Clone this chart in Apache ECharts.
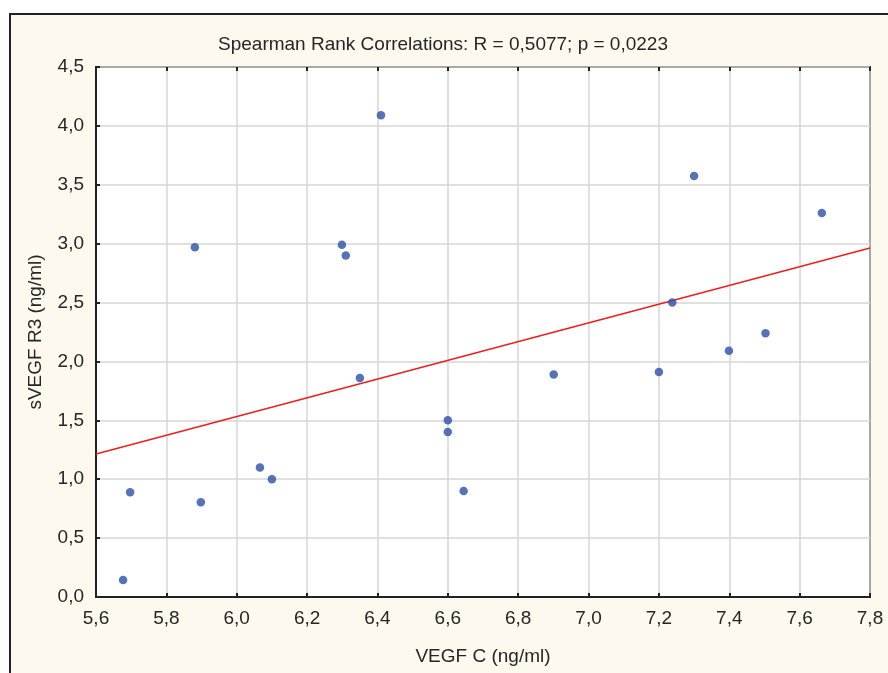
<!DOCTYPE html>
<html><head><meta charset="utf-8">
<script src="https://cdn.jsdelivr.net/npm/echarts@6/dist/echarts.min.js"></script>
<style>html,body{margin:0;padding:0;background:#fff}#c{width:888px;height:673px}</style>
</head><body><div id="c"></div>
<script>
var titleText = 'Spearman Rank Correlations: R = 0,5077; p = 0,0223';
var xName = 'VEGF C (ng/ml)';
var yName = 'sVEGF R3 (ng/ml)';
var vegfC = [5.677, 5.697, 5.881, 5.898, 6.066, 6.100, 6.299, 6.310, 6.350, 6.410, 6.600, 6.600, 6.645, 6.901, 7.200, 7.238, 7.300, 7.399, 7.503, 7.663];
var svegfR3 = [0.145, 0.89, 2.97, 0.805, 1.10, 1.00, 2.99, 2.90, 1.86, 4.09, 1.50, 1.40, 0.90, 1.89, 1.91, 2.50, 3.575, 2.09, 2.24, 3.26];
var fitX = [5.6, 7.8];
var fitY = [1.214, 2.963];

var pts = vegfC.map(function(x,i){return [x, svegfR3[i]];});
var fit = fitX.map(function(x,i){return [x, fitY[i]];});
var fmt = function(v){return v.toFixed(1).replace('.', ',');};
var font = 'Liberation Sans, Arial, sans-serif';
var fs = 19;
var txt = '#262626';

var chart = echarts.init(document.getElementById('c'), null, {renderer:'canvas'});
chart.setOption({
  animation:false,
  backgroundColor:'#ffffff',
  graphic:[{type:'rect', z:-10, shape:{x:10, y:14, width:900, height:700}, style:{fill:'#fdf9ef', stroke:'#222', lineWidth:2}}],
  title:{text:titleText, left:438, top:30, textAlign:'center', textStyle:{fontFamily:font, fontSize:fs, fontWeight:'normal', color:txt}},
  grid:{left:96, top:67, width:774, height:530, show:true, backgroundColor:'#fff', borderColor:'#222', borderWidth:2},
  xAxis:[{type:'value', min:5.6, max:7.8, interval:0.2, position:'bottom',
    name:xName, nameLocation:'middle', nameGap:50, nameTextStyle:{fontFamily:font, fontSize:fs, color:txt},
    axisLine:{show:true, lineStyle:{color:'#222', width:2}},
    axisTick:{show:true, inside:true, length:4, lineStyle:{color:'#222', width:2}},
    axisLabel:{formatter:fmt, fontFamily:font, fontSize:fs, color:txt, margin:12, showMinLabel:true, showMaxLabel:true},
    splitLine:{show:true, lineStyle:{color:'#d6d6d6', width:1.5}}},
   {type:'value', min:5.6, max:7.8, interval:0.2, position:'top',
    axisLine:{show:false}, axisTick:{show:true, inside:true, length:4, lineStyle:{color:'#222', width:2}},
    axisLabel:{show:false}, splitLine:{show:false}}],
  yAxis:[{type:'value', min:0, max:4.5, interval:0.5,
    name:yName, nameLocation:'middle', nameGap:51, nameTextStyle:{fontFamily:font, fontSize:fs, color:txt},
    axisLine:{show:true, lineStyle:{color:'#222', width:2}},
    axisTick:{show:true, inside:true, length:4, lineStyle:{color:'#222', width:2}},
    axisLabel:{formatter:fmt, fontFamily:font, fontSize:fs, color:txt, margin:12},
    splitLine:{show:true, lineStyle:{color:'#d6d6d6', width:1.5}}}],
  series:[
    {type:'line', data:fit, symbol:'none', lineStyle:{color:'#e8201f', width:1.6}, z:2},
    {type:'scatter', data:pts, symbol:'circle', symbolSize:8.5, itemStyle:{color:'#2d4fa3'}, z:3}
  ]
});
</script></body></html>
